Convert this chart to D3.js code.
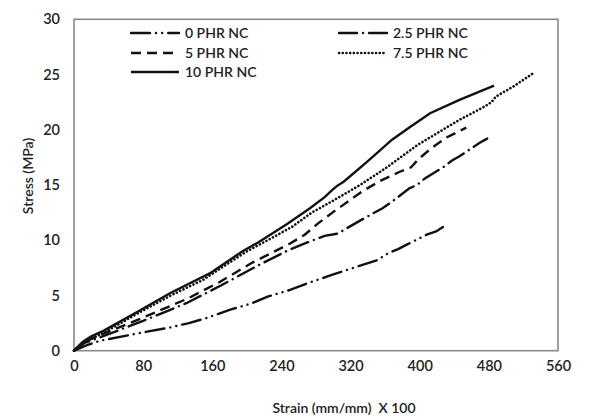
<!DOCTYPE html>
<html>
<head>
<meta charset="utf-8">
<script src="https://cdn.jsdelivr.net/npm/d3@7"></script>
<style>
body { margin: 0; background: #fff; }
text { font-family: Lato, "Open Sans", sans-serif; fill: #222; }
</style>
</head>
<body>
<div id="plot-area"></div>
<script>
// strain (x100), stress (MPa)
seriesNames = ['0 PHR NC', '2.5 PHR NC', '5 PHR NC', '7.5 PHR NC', '10 PHR NC']

phr0 = [[0,0],[15,0.5],[30,0.9],[76,1.6],[111,2.1],[133,2.5],[155,3.0],[180,3.7],[206,4.3],[224,4.9],
    [250,5.5],[270,6.1],[300,6.9],[327,7.6],[351,8.2],[363,8.8],[375,9.2],[385,9.6],[408,10.5],[419,10.8],[431,11.4]]

phr25 = [[0,0],[12,0.7],[30,1.2],[80,2.7],[130,4.3],[170,5.9],[210,7.6],[248,9.1],[270,9.8],[290,10.4],
    [305,10.6],[316,11.1],[336,12.0],[357,12.9],[368,13.5],[388,14.7],[397,15.0],[406,15.6],[427,16.6],
    [437,17.2],[446,17.6],[469,18.8],[478,19.2]]

phr5 = [[0,0],[12,0.8],[30,1.4],[80,3.0],[131,4.7],[168,6.2],[207,8.0],[250,9.7],[267,10.5],[282,11.5],
    [299,12.5],[317,13.5],[335,14.5],[355,15.4],[377,16.2],[390,16.6],[398,17.3],[413,18.3],[431,19.3],[454,20.2]]

phr75 = [[0,0],[10,0.7],[34,1.6],[72,3.3],[112,5.0],[149,6.4],[198,8.9],[224,10.0],[252,11.2],[275,12.5],
    [298,13.5],[331,15.0],[362,16.6],[397,18.6],[431,20.2],[446,20.9],[475,22.1],[483,22.5],[488,23.0],
    [508,23.9],[531,25.1]]

phr10 = [[0,0],[10,0.8],[20,1.3],[34,1.8],[73,3.5],[111,5.2],[157,7.0],[195,9.0],[213,9.8],[247,11.5],
    [273,12.9],[290,13.9],[298,14.5],[304,14.9],[312,15.3],[339,17.1],[368,19.1],[388,20.2],[412,21.5],[446,22.7],[486,24.0]]

xTicks = [0, 80, 160, 240, 320, 400, 480, 560]
yTicks = [0, 5, 10, 15, 20, 25, 30]

allSeries = [phr0, phr25, phr5, phr75, phr10]
dashes = ['19,6,0.1,6,0.1,6', '18,6,0.1,6', '10,6', '0.1,3.6', null]
caps = ['butt', 'butt', 'butt', 'round', 'butt']

width = 589
height = 416

plotSVG = d3.select('#plot-area').append('svg')
    .attr('width', width)
    .attr('height', height)

xScale = d3.scaleLinear()
    .domain([0, 560])
    .range([74, 558])

yScale = d3.scaleLinear()
    .domain([0, 30])
    .range([350.7, 19.3])

// frame
plotSVG.append('rect')
    .attr('x', xScale(0))
    .attr('y', yScale(30))
    .attr('width', xScale(560) - xScale(0))
    .attr('height', yScale(0) - yScale(30))
    .attr('fill', 'none')
    .attr('stroke', '#8a8a8a')
    .attr('stroke-width', 1.6)

xAxis = d3.axisBottom(xScale).tickValues(xTicks).tickSize(0).tickPadding(10)
yAxis = d3.axisLeft(yScale).tickValues(yTicks).tickSize(0).tickPadding(14)

gx = plotSVG.append('g')
    .attr('class', 'axis x-axis')
    .attr('transform', 'translate(0,' + yScale(0) + ')')
    .call(xAxis)

gy = plotSVG.append('g')
    .attr('class', 'axis y-axis')
    .attr('transform', 'translate(' + xScale(0) + ',0)')
    .call(yAxis)

plotSVG.selectAll('.axis .domain').remove()
plotSVG.selectAll('.axis text')
    .attr('font-family', 'Lato, sans-serif')
    .attr('font-size', 14.5)
    .attr('font-weight', 600)
    .attr('fill', '#2a2a2a')

line = d3.line()
    .x(function(d){ return xScale(d[0]) })
    .y(function(d){ return yScale(d[1]) })

// round caps turn the 0.1 dashes into dots
function capFor(i) { return caps[i] == 'round' || i < 2 ? 'round' : 'butt' }

plotSVG.selectAll('.curve')
    .data(allSeries).enter()
    .append('path')
    .attr('class', 'curve')
    .attr('d', line)
    .attr('fill', 'none')
    .attr('stroke', '#111')
    .attr('stroke-width', function(d, i){ return i == 3 ? 2.6 : 2.4 })
    .attr('stroke-linecap', function(d, i){ return capFor(i) })
    .attr('stroke-dasharray', function(d, i){ return dashes[i] })

// legend
legendPos = [[130, 33], [338, 33], [130, 53], [338, 53], [130, 72]]

legend = plotSVG.selectAll('.legend-item')
    .data(seriesNames).enter()
    .append('g')
    .attr('class', 'legend-item')
    .attr('transform', function(d, i){ return 'translate(' + legendPos[i][0] + ',' + legendPos[i][1] + ')' })

legend.append('line')
    .attr('x1', 1)
    .attr('x2', 49)
    .attr('y1', 0)
    .attr('y2', 0)
    .attr('stroke', '#111')
    .attr('stroke-width', function(d, i){ return i == 3 ? 2.6 : 2.4 })
    .attr('stroke-linecap', function(d, i){ return capFor(i) })
    .attr('stroke-dasharray', function(d, i){ return dashes[i] })

legend.append('text')
    .attr('x', 55)
    .attr('y', 5)
    .attr('font-size', 14)
    .attr('font-weight', 600)
    .text(function(d){ return d })

plotSVG.append('text')
    .attr('x', 344)
    .attr('y', 413)
    .attr('text-anchor', 'middle')
    .attr('font-size', 14)
    .attr('font-weight', 600)
    .style('white-space', 'pre')
    .text('Strain (mm/mm)  X 100')

plotSVG.append('text')
    .attr('transform', 'translate(33,176) rotate(-90)')
    .attr('text-anchor', 'middle')
    .attr('font-size', 14)
    .attr('font-weight', 600)
    .text('Stress (MPa)')
</script>
</body>
</html>
